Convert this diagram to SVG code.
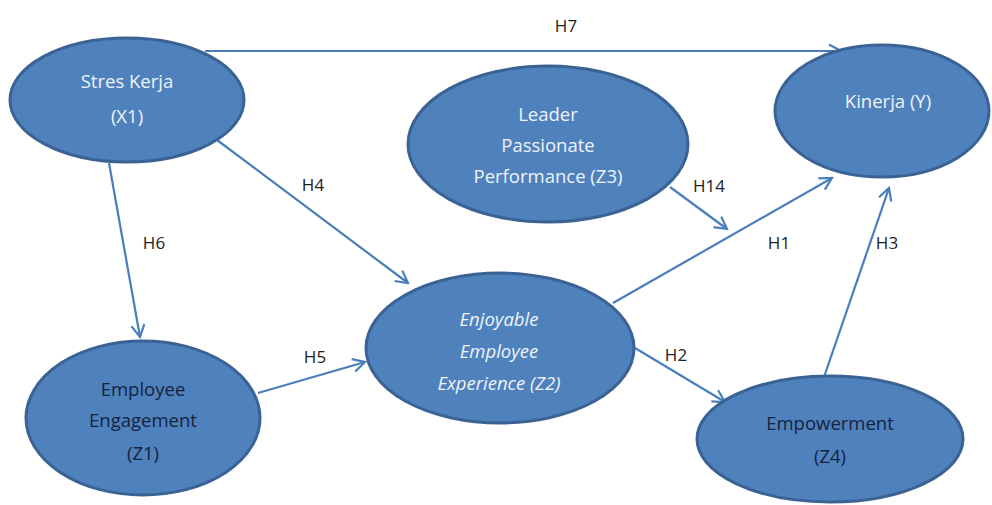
<svg xmlns="http://www.w3.org/2000/svg" width="992" height="505" viewBox="0 0 992 505">
<style>
.node{fill:#4f81bd;stroke:#3a6394;stroke-width:3}
.t{font-family:"Open Sans","Liberation Sans",sans-serif;font-size:18.5px;text-anchor:middle}
.lt{fill:#eef3fa}
.dk{fill:#14233f}
.it{font-style:italic}
.lbl{font-family:"Open Sans","Liberation Sans",sans-serif;font-size:17px;fill:#222;text-anchor:middle}
.c{stroke:#4a7ebb;stroke-width:2.2;fill:none;marker-end:url(#arr)}
</style>
<defs>
<marker id="arr" markerUnits="userSpaceOnUse" viewBox="-14 -8 16 16" refX="0" refY="0" markerWidth="16" markerHeight="16" orient="auto">
<path d="M-12,-6.5 L0,0 L-12,6.5" fill="none" stroke="#4a7ebb" stroke-width="2.2"/>
</marker>
</defs>
<rect width="992" height="505" fill="#fff"/>
<g id="connectors">
<line class="c" x1="205" y1="51" x2="841" y2="51"/>
<line class="c" x1="217" y1="140" x2="408" y2="283"/>
<line class="c" x1="109" y1="163" x2="140" y2="337"/>
<line class="c" x1="258" y1="393" x2="365" y2="362"/>
<line class="c" x1="670" y1="187" x2="727" y2="229"/>
<line class="c" x1="613" y1="303" x2="832" y2="178"/>
<line class="c" x1="635" y1="348" x2="725" y2="402"/>
<line class="c" x1="823" y1="380" x2="889" y2="188"/>
<text class="lbl" x="566" y="32">H7</text>
<text class="lbl" x="313" y="191">H4</text>
<text class="lbl" x="154" y="249">H6</text>
<text class="lbl" x="315" y="363">H5</text>
<text class="lbl" x="709" y="192">H14</text>
<text class="lbl" x="779" y="249">H1</text>
<text class="lbl" x="676" y="361">H2</text>
<text class="lbl" x="887" y="249">H3</text>
</g>
<g id="X1">
<ellipse class="node" cx="127" cy="100" rx="117" ry="62"/>
<text class="t lt" x="127" y="88">Stres Kerja</text>
<text class="t lt" x="127" y="123">(X1)</text>
</g>
<g id="Z3">
<ellipse class="node" cx="548" cy="144" rx="140" ry="78"/>
<text class="t lt" x="548" y="121">Leader</text>
<text class="t lt" x="548" y="152">Passionate</text>
<text class="t lt" x="548" y="183">Performance (Z3)</text>
</g>
<g id="Y">
<ellipse class="node" cx="882" cy="111" rx="107" ry="66"/>
<text class="t lt" x="888" y="108">Kinerja (Y)</text>
</g>
<g id="Z2">
<ellipse class="node" cx="500" cy="348" rx="134" ry="75"/>
<text class="t lt it" x="499" y="326">Enjoyable</text>
<text class="t lt it" x="499" y="358">Employee</text>
<text class="t lt it" x="499" y="390">Experience (Z2)</text>
</g>
<g id="Z1">
<ellipse class="node" cx="143" cy="418" rx="117" ry="77"/>
<text class="t dk" x="143" y="396">Employee</text>
<text class="t dk" x="143" y="427">Engagement</text>
<text class="t dk" x="143" y="460">(Z1)</text>
</g>
<g id="Z4">
<ellipse class="node" cx="830" cy="439" rx="133" ry="63"/>
<text class="t dk" x="830" y="430">Empowerment</text>
<text class="t dk" x="830" y="463">(Z4)</text>
</g>
</svg>
